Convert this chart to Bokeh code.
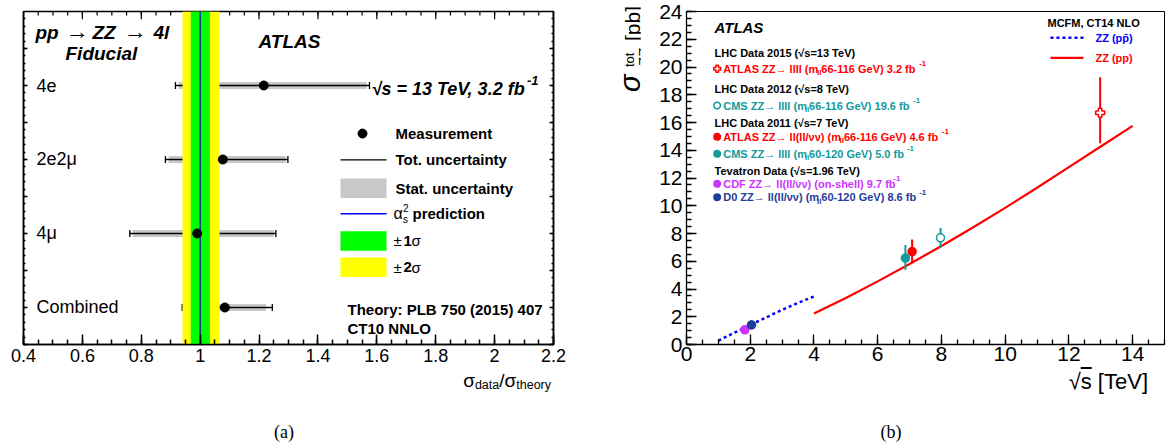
import numpy as np
from bokeh.plotting import figure
from bokeh.models import (Range1d, LinearAxis, SingleIntervalTicker, Label,
                          CustomJSTickFormatter, ColumnDataSource, Div)
from bokeh.layouts import row, column
from bokeh.embed import file_html
from bokeh.resources import INLINE
from bokeh.core.properties import value

FONT = "Liberation Sans"
SERIF = "Liberation Serif"

# ---------------- data: panel (a) ----------------
channels = ["4e", "2e2μ", "4μ", "Combined"]
channel_pos = [3.5, 2.5, 1.5, 0.5]
ratio = [1.216, 1.077, 0.990, 1.084]
tot_lo = [0.916, 0.882, 0.761, 0.939]
tot_hi = [1.575, 1.298, 1.257, 1.245]
stat_lo = [0.927, 0.893, 0.771, 0.950]
stat_hi = [1.565, 1.290, 1.250, 1.224]
theory = 1.0
sigma1_band = [0.968, 1.033]
sigma2_band = [0.940, 1.066]

# ---------------- data: panel (b) ----------------
ppbar_sqrts = [1.0, 1.5, 2.0, 2.5, 3.0, 3.5, 4.0]
ppbar_xsec = [0.28, 0.85, 1.40, 1.95, 2.50, 3.00, 3.46]
pp_sqrts = [4, 5, 6, 7, 8, 9, 10, 11, 12, 13, 14]
pp_xsec = [2.24, 3.35, 4.55, 5.80, 7.10, 8.45, 9.85, 11.30, 12.78, 14.27, 15.76]
meas_names = ["ATLAS 13 TeV", "CMS 8 TeV", "ATLAS 7 TeV", "CMS 7 TeV", "CDF", "D0"]
meas_sqrts = [12.98, 7.97, 7.08, 6.87, 1.83, 2.04]
meas_xsec = [16.70, 7.69, 6.70, 6.23, 1.06, 1.41]
meas_lo = [14.50, 6.99, 5.93, 5.39, 0.85, 1.10]
meas_hi = [19.27, 8.40, 7.57, 7.18, 1.30, 1.74]

legend_headers = ["LHC Data 2015 (√s=13 TeV)", "LHC Data 2012 (√s=8 TeV)",
                  "LHC Data 2011 (√s=7 TeV)", "Tevatron Data (√s=1.96 TeV)"]
legend_entries = [
    ["ATLAS ZZ→ llll (m", ("ll", "sub"), " 66-116 GeV) 3.2 fb", ("-1", "sup")],
    ["CMS ZZ→ llll (m", ("ll", "sub"), " 66-116 GeV) 19.6 fb", ("-1", "sup")],
    ["ATLAS ZZ→ ll(ll/νν) (m", ("ll", "sub"), " 66-116 GeV) 4.6 fb", ("-1", "sup")],
    ["CMS ZZ→ llll (m", ("ll", "sub"), " 60-120 GeV) 5.0 fb", ("-1", "sup")],
    ["CDF ZZ→ ll(ll/νν) (on-shell) 9.7 fb", ("-1", "sup")],
    ["D0 ZZ→ ll(ll/νν) (m", ("ll", "sub"), " 60-120 GeV) 8.6 fb", ("-1", "sup")],
]

# ---------------- styles ----------------
RED = "#ff0000"
TEAL = "#139a9a"
MAG = "#cc33ff"
DBLUE = "#1f3d99"
BLUE = "#0000ff"
meas_colors = [RED, TEAL, RED, TEAL, MAG, DBLUE]
meas_markers = ["plus", "circle", "circle", "circle", "circle", "circle"]
meas_fill = ["white", "white", RED, TEAL, MAG, DBLUE]
meas_size = [9, 8, 8, 8, 8, 8]

# ---------------- text width estimates (Arial metrics) ----------------
REG = {' ': 278, '(': 333, ')': 333, '-': 333, '.': 278, ',': 278, '/': 278, ':': 278,
       '=': 584, '[': 278, ']': 278, 'l': 222, 'i': 222, 'f': 278, 't': 278, 'r': 333,
       'm': 833, 's': 500, 'c': 500, 'v': 500, 'y': 500, '→': 800, '√': 549}
BOLD = {' ': 278, '(': 333, ')': 333, '-': 333, '.': 278, ',': 278, '/': 278, ':': 333,
        '=': 584, '[': 333, ']': 333, 'l': 278, 'i': 278, 'f': 333, 't': 333, 'r': 389,
        'm': 889, 'I': 278, 'A': 722, 'B': 722, 'C': 722, 'D': 722, 'H': 722, 'N': 722,
        'L': 611, 'T': 611, 'Z': 611, 'F': 611, 'S': 667, 'V': 667, 'P': 667, 'E': 667,
        'M': 833, 'O': 778, 'G': 778, 'b': 611, 'd': 611, 'h': 611, 'n': 611, 'o': 611,
        'p': 611, 'u': 611, '→': 800, '√': 549}


def text_width(s, size, bold):
    tbl = BOLD if bold else REG
    return sum(tbl.get(c, 556) for c in s) / 1000.0 * size


def lab(fig, x, y, text, size, style="normal", color="black", font=FONT,
        align="left", baseline="middle", dx=0.0, dy=0.0, angle=0.0):
    fig.add_layout(Label(x=x, y=y, text=text, x_offset=dx, y_offset=dy,
                         text_font=font, text_font_size=f"{size}px",
                         text_font_style=style, text_color=color,
                         text_align=align, text_baseline=baseline, angle=angle))


def rich(fig, x, y, segs, size, style="bold", color="black"):
    bold = "bold" in style
    cursor = 0.0
    for s in segs:
        t, kind = (s, "n") if isinstance(s, str) else s
        sz = size if kind == "n" else round(size * 0.72, 1)
        dy = 0.0 if kind == "n" else (0.45 * size if kind == "sup" else -0.35 * size)
        lab(fig, x, y, t, sz, style=style, color=color, dx=cursor, dy=dy)
        cursor += text_width(t, sz, bold)


blank = CustomJSTickFormatter(code="return ''")


def style_axis(a, tin, tmin, lw=1.0, font_size=None, standoff=5):
    a.major_tick_in = tin
    a.major_tick_out = 0
    a.minor_tick_in = tmin
    a.minor_tick_out = 0
    a.axis_line_width = lw
    a.major_tick_line_width = lw
    a.minor_tick_line_width = lw
    a.axis_line_color = "black"
    if font_size is None:
        a.formatter = blank
        a.major_label_text_font_size = "0px"
        a.major_label_standoff = 0
    else:
        a.major_label_text_font = FONT
        a.major_label_text_font_size = font_size
        a.major_label_text_color = "black"
        a.major_label_standoff = standoff


ROW_H = 368
BOT_H = 78
PA_W = 590
YL_W = 50
PB_W = 528

# ================= panel (a) =================
def ax(X):
    return 0.4 + (X - 23) * 1.8 / 530


def ay(Y):
    return (344 - Y) / 75.78


YA_TOP = (344 - 3) / 75.78

pa = figure(width=PA_W, height=ROW_H, x_range=Range1d(0.4, 2.2), y_range=Range1d(0, YA_TOP),
            output_backend="svg", toolbar_location=None, title=None,
            min_border_left=23, min_border_right=PA_W - 553, min_border_top=3,
            min_border_bottom=ROW_H - 344)
pa.grid.visible = False
pa.outline_line_color = "black"
pa.outline_line_width = 1.5

xa = pa.xaxis[0]
xa.ticker = SingleIntervalTicker(interval=0.2, num_minor_ticks=4)
style_axis(xa, 10, 5, lw=1.5, font_size="18px", standoff=4)
xa.formatter = CustomJSTickFormatter(code="return Number(tick.toFixed(2)).toString();")
ya = pa.yaxis[0]
ya.ticker = SingleIntervalTicker(interval=0.5, num_minor_ticks=5)
style_axis(ya, 4, 2, lw=1.5)
right_a = LinearAxis(ticker=SingleIntervalTicker(interval=0.5, num_minor_ticks=5))
style_axis(right_a, 4, 2, lw=1.5)
pa.add_layout(right_a, "right")

# top-edge ticks (same spacing as the bottom axis: majors every 0.2, minors every 0.05)
top_major = np.round(np.arange(0.4, 2.2001, 0.2), 3)
top_minor = np.round(np.arange(0.4, 2.2001, 0.05), 3)
pa.segment(x0=top_minor, x1=top_minor, y0=YA_TOP, y1=YA_TOP - 4 / 75.78,
           line_color="black", line_width=1.2)
pa.segment(x0=top_major, x1=top_major, y0=YA_TOP, y1=YA_TOP - 8 / 75.78,
           line_color="black", line_width=1.2)

src_a = ColumnDataSource(dict(ch=channels, y=channel_pos, r=ratio, tlo=tot_lo, thi=tot_hi,
                              slo=stat_lo, shi=stat_hi, lx=[ax(36)] * 4))
pa.hbar(y="y", left="slo", right="shi", height=0.092, source=src_a,
        fill_color="#c8c8c8", line_color=None)
pa.segment(x0="tlo", x1="thi", y0="y", y1="y", source=src_a, line_color="black", line_width=1.3)
pa.scatter(x="tlo", y="y", source=src_a, marker="dash", angle=np.pi / 2, size=7,
           line_color="black", line_width=1.3)
pa.scatter(x="thi", y="y", source=src_a, marker="dash", angle=np.pi / 2, size=7,
           line_color="black", line_width=1.3)
pa.quad(left=[sigma2_band[0]], right=[sigma2_band[1]], bottom=[0], top=[YA_TOP],
        fill_color="#ffff00", line_color=None)
pa.quad(left=[sigma1_band[0]], right=[sigma1_band[1]], bottom=[0], top=[YA_TOP],
        fill_color="#00ff00", line_color=None)
pa.segment(x0=[theory], x1=[theory], y0=[0], y1=[YA_TOP], line_color="#1010b0", line_width=1.3)
pa.scatter(x="r", y="y", source=src_a, marker="circle", size=9,
           fill_color="black", line_color="black")
pa.text(x="lx", y="y", text="ch", source=src_a, text_font=value(FONT), text_font_size="18px",
        text_baseline="middle", text_align="left", text_color="black")

# title texts
for t, X, st, sz, d in [("pp", 35, "bold italic", 19, 0), ("→", 65, "normal", 23, 2),
                        ("ZZ", 92, "bold italic", 19, 0), ("→", 123, "normal", 23, 2),
                        ("4l", 153, "bold italic", 19, 0)]:
    lab(pa, ax(X), ay(25), t, sz, style=st, dy=d)
lab(pa, ax(65), ay(46), "Fiducial", 19, style="bold italic")
lab(pa, ax(258), ay(34), "ATLAS", 19, style="bold italic")
rich(pa, ax(371), ay(82), ["√s = 13 TeV, 3.2 fb", ("-1", "sup")], 18, style="bold italic")

# legend (a)
LX0, LX1 = ax(340), ax(386)
pa.scatter(x=[ax(362)], y=[ay(128)], marker="circle", size=9, fill_color="black", line_color="black")
lab(pa, ax(395), ay(128), "Measurement", 15, style="bold")
pa.segment(x0=[LX0], x1=[LX1], y0=[ay(155)], y1=[ay(155)], line_color="black", line_width=1.2)
lab(pa, ax(395), ay(155), "Tot. uncertainty", 15, style="bold")
pa.quad(left=[LX0], right=[LX1], bottom=[ay(194)], top=[ay(174)], fill_color="#c8c8c8", line_color=None)
lab(pa, ax(395), ay(184), "Stat. uncertainty", 15, style="bold")
pa.segment(x0=[LX0], x1=[LX1], y0=[ay(210)], y1=[ay(210)], line_color="#0000ff", line_width=1.5)
lab(pa, ax(393), ay(210), "α", 16)
lab(pa, ax(402.5), ay(204), "2", 10)
lab(pa, ax(402.5), ay(216.5), "s", 10)
lab(pa, ax(412), ay(210), "prediction", 15, style="bold")
pa.quad(left=[LX0], right=[LX1], bottom=[ay(248)], top=[ay(228)], fill_color="#00ff00", line_color=None)
lab(pa, ax(393), ay(238), "±", 15)
lab(pa, ax(403), ay(238), "1", 15, style="bold")
lab(pa, ax(411), ay(238), "σ", 15)
pa.quad(left=[LX0], right=[LX1], bottom=[ay(275)], top=[ay(255)], fill_color="#ffff00", line_color=None)
lab(pa, ax(393), ay(265), "±", 15)
lab(pa, ax(403), ay(265), "2", 15, style="bold")
lab(pa, ax(411), ay(265), "σ", 15)
lab(pa, ax(347), ay(308), "Theory: PLB 750 (2015) 407", 15, style="bold")
lab(pa, ax(347), ay(327.5), "CT10 NNLO", 15, style="bold")


# ================= panel (b) =================
YB_TOP_PX = 11
YB_SCALE = (344 - YB_TOP_PX) / 24.0
PB_X0 = PA_W + YL_W  # page x where panel (b) starts


def bx(X):
    return (X - 686) / 31.87


def by(Y):
    return (344 - Y) / YB_SCALE


pb = figure(width=PB_W, height=ROW_H, x_range=Range1d(0, 15), y_range=Range1d(0, 24),
            output_backend="svg", toolbar_location=None, title=None,
            min_border_left=686 - PB_X0, min_border_right=PB_X0 + PB_W - 1164,
            min_border_top=YB_TOP_PX, min_border_bottom=ROW_H - 344)
pb.grid.visible = False
pb.outline_line_color = "black"
pb.outline_line_width = 1.0
xb = pb.xaxis[0]
xb.ticker = SingleIntervalTicker(interval=2, num_minor_ticks=4)
style_axis(xb, 10, 5, lw=1.3, font_size="21px", standoff=2)
ybx = pb.yaxis[0]
ybx.ticker = SingleIntervalTicker(interval=2, num_minor_ticks=4)
style_axis(ybx, 10, 5, lw=1.3, font_size="21px", standoff=4)

pb.line(ppbar_sqrts, ppbar_xsec, line_color=BLUE, line_width=2.5, line_dash="3 3")
pb.line(pp_sqrts, pp_xsec, line_color=RED, line_width=2.2)

src_b = ColumnDataSource(dict(x=meas_sqrts, y=meas_xsec, lo=meas_lo, hi=meas_hi,
                              c=meas_colors, m=meas_markers, f=meas_fill, s=meas_size))
pb.segment(x0="x", x1="x", y0="lo", y1="hi", source=src_b, line_color="c", line_width=2)
pb.scatter(x="x", y="y", source=src_b, marker="m", fill_color="f", line_color="c",
           size="s", line_width=1.5)

# legend (b)
lab(pb, bx(714), by(26.7), "ATLAS", 15, style="bold italic")
header_Y = [52.7, 88.3, 122.3, 170.0]
for t, Y in zip(legend_headers, header_Y):
    lab(pb, bx(714), by(Y), t, 11, style="bold")
entry_Y = [68.3, 105.0, 136.3, 153.3, 183.3, 196.7]
for segs, Y, c in zip(legend_entries, entry_Y, meas_colors):
    rich(pb, bx(722.7), by(Y), segs, 11, style="bold", color=c)
src_leg = ColumnDataSource(dict(x=[bx(716.7)] * 6, y=[by(Y) for Y in entry_Y], c=meas_colors,
                                m=meas_markers, f=meas_fill, s=[7, 6.5, 6.5, 6.5, 6.5, 6.5]))
pb.scatter(x="x", y="y", source=src_leg, marker="m", fill_color="f", line_color="c",
           size="s", line_width=1.5)

lab(pb, bx(1047), by(22.3), "MCFM, CT14 NLO", 11, style="bold")
pb.segment(x0=[bx(1050)], x1=[bx(1083)], y0=[by(37.3)], y1=[by(37.3)], line_color=BLUE,
           line_width=2.5, line_dash="3 3")
lab(pb, bx(1095), by(37.3), "ZZ (pp̄)", 11, style="bold", color=BLUE)
pb.segment(x0=[bx(1050)], x1=[bx(1083)], y0=[by(57.3)], y1=[by(57.3)], line_color=RED, line_width=2.2)
lab(pb, bx(1095), by(57.3), "ZZ (pp)", 11, style="bold", color=RED)

# ================= texts outside the frames (HTML) =================
F = "font-family:'Liberation Sans',Arial,sans-serif;color:black;"
FS = "font-family:'Liberation Serif','Times New Roman',serif;color:black;"

ylab_html = (
    f"<div style=\"position:relative;width:{YL_W}px;height:{ROW_H}px;{F}\">"
    "<div style=\"position:absolute;left:25.8px;top:92px;transform:rotate(-90deg);"
    "transform-origin:0 0;white-space:nowrap;line-height:28px;height:28px;\">"
    "<span style=\"display:inline-block;width:25px;font-size:29px;font-style:italic\">σ</span>"
    "<span style=\"display:inline-block;position:relative;width:26px;height:28px;vertical-align:top\">"
    "<span style=\"position:absolute;left:0;top:7px;font-size:13px;line-height:1\">tot</span>"
    "<span style=\"position:absolute;left:0;top:20px;font-size:15px;font-style:italic;line-height:1\">ZZ</span>"
    "</span><span style=\"font-size:21px\">[pb]</span></div></div>")
ylab_div = Div(text=ylab_html, width=YL_W, height=ROW_H, margin=0)

xa_html = (
    f"<div style=\"position:relative;width:{PA_W}px;height:{BOT_H}px;{F}\">"
    f"<span style=\"position:absolute;right:{PA_W - 551}px;top:2.6px;font-size:19px;line-height:1;white-space:nowrap\">"
    "σ<span style=\"font-size:12.5px;vertical-align:-2px\">data</span>/σ"
    "<span style=\"font-size:12.5px;vertical-align:-2px\">theory</span></span>"
    f"<div style=\"position:absolute;left:0;top:55px;width:568px;text-align:center;{FS}"
    "font-size:18px;line-height:1\">(a)</div></div>")
xa_div = Div(text=xa_html, width=PA_W, height=BOT_H, margin=0)

XB_W = YL_W + PB_W
xb_html = (
    f"<div style=\"position:relative;width:{XB_W}px;height:{BOT_H}px;{F}\">"
    f"<span style=\"position:absolute;right:{PA_W + XB_W - 1148}px;top:3.3px;font-size:22px;line-height:1;white-space:nowrap\">"
    "√<span style=\"text-decoration:overline\">s</span> [TeV]</span>"
    f"<div style=\"position:absolute;left:{891 - PA_W - 50}px;top:55px;width:100px;text-align:center;{FS}"
    "font-size:18px;line-height:1\">(b)</div></div>")
xb_div = Div(text=xb_html, width=XB_W, height=BOT_H, margin=0)

layout = column(row(pa, ylab_div, pb), row(xa_div, xb_div))
open("out.html", "w").write(file_html(layout, INLINE))
